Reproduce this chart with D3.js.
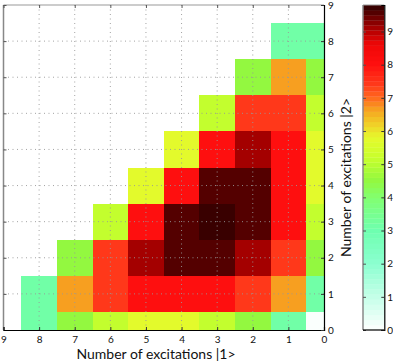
<!DOCTYPE html>
<html>
<head>
<meta charset="utf-8">
<script src="https://cdn.jsdelivr.net/npm/d3@7"></script>
<style>
  body { margin: 0; background: #fff; }
  text { font-family: Lato, "Open Sans", sans-serif; fill: #111; }
</style>
</head>
<body>
<div id="chart"></div>
<script>
// counts of excitations on each axis
var excit1 = [0, 1, 2, 3, 4, 5, 6, 7, 8],
    excit2 = [0, 1, 2, 3, 4, 5, 6, 7, 8],
    xTicks = [9, 8, 7, 6, 5, 4, 3, 2, 1, 0],
    yTicks = [0, 1, 2, 3, 4, 5, 6, 7, 8, 9],
    cbTicks = [0, 1, 2, 3, 4, 5, 6, 7, 8, 9];

// one row per |2> count, index = |1> count (null = no cell)
var row0 = [0.0, 3.1, 4.5, 5.2, 5.8, 5.8, 5.2, 4.5, 3.1],
    row1 = [3.1, 6.6, 7.4, 8.0, 8.0, 8.0, 7.4, 6.6, 3.1],
    row2 = [4.5, 7.4, 9.05, 9.55, 9.55, 9.05, 7.4, 4.5, null],
    row3 = [5.2, 8.0, 9.55, 9.8, 9.55, 8.0, 5.2, null, null],
    row4 = [5.8, 8.0, 9.55, 9.55, 8.0, 5.8, null, null, null],
    row5 = [5.8, 8.0, 9.05, 8.0, 5.8, null, null, null, null],
    row6 = [5.2, 7.4, 7.4, 5.2, null, null, null, null, null],
    row7 = [4.5, 6.6, 4.5, null, null, null, null, null, null],
    row8 = [3.1, 3.1, null, null, null, null, null, null, null];
var rows = [row0, row1, row2, row3, row4, row5, row6, row7, row8];

var zMax = 9.8;

var W = 393, H = 363,
    plot = { left: 3.5, right: 324, top: 5, bottom: 330 },
    cb = { left: 363, right: 384.3, top: 5, bottom: 330 };

var svg = d3.select("#chart").append("svg")
    .attr("width", W)
    .attr("height", H);

var x = d3.scaleLinear().domain([9, 0]).range([plot.left, plot.right]);
var y = d3.scaleLinear().domain([0, 9]).range([plot.bottom, plot.top]);

// colormap: white -> aquamarine -> green -> yellow -> orange -> red -> black-red
var cmap = d3.scaleLinear()
    .domain([0, 1, 2, 3, 4, 4.5, 5.2, 5.8, 6.2, 6.6, 7.0, 7.4, 8.0, 8.6, 9.0, 9.5, 9.8])
    .range(["#ffffff", "#c4ffe8", "#8cffd0", "#6effb0", "#82ff70", "#92f840", "#c8ff2c",
            "#e6fa2c", "#f0d028", "#f5a820", "#ff6a1e", "#ff3a1a", "#ff1010", "#f00808",
            "#b80000", "#600000", "#2c0000"])
    .clamp(true);
var nLevels = 64;
function color(v) {
    var k = Math.min(nLevels - 1, Math.floor(v / zMax * nLevels));
    return cmap((k + 0.5) / nLevels * zMax);
}

// cells
var cells = [];
rows.forEach(function(r, j) {
    r.forEach(function(v, i) {
        if (v !== null) cells.push({ e1: excit1[i], e2: excit2[j], v: v });
    });
});

svg.append("clipPath").attr("id", "clip")
    .append("rect")
    .attr("x", plot.left).attr("y", plot.top)
    .attr("width", plot.right - plot.left).attr("height", plot.bottom - plot.top);

var g = svg.append("g").attr("clip-path", "url(#clip)");

g.selectAll(".cell")
    .data(cells)
    .enter().append("rect")
    .attr("class", "cell")
    .attr("x", function(d) { return x(d.e1 + 0.5); })
    .attr("y", function(d) { return y(d.e2 + 0.5); })
    .attr("width", function(d) { return x(d.e1 - 0.5) - x(d.e1 + 0.5); })
    .attr("height", function(d) { return y(d.e2 - 0.5) - y(d.e2 + 0.5); })
    .attr("shape-rendering", "crispEdges")
    .style("fill", function(d) { return color(d.v); });

// dotted grid
g.selectAll(".vgrid")
    .data(xTicks.slice(1, -1))
    .enter().append("line")
    .attr("x1", function(d) { return x(d); }).attr("x2", function(d) { return x(d); })
    .attr("y1", plot.top).attr("y2", plot.bottom)
    .attr("stroke", "#999").attr("stroke-width", 0.9)
    .attr("stroke-dasharray", "1,3.5");

g.selectAll(".hgrid")
    .data(yTicks.slice(1, -1))
    .enter().append("line")
    .attr("y1", function(d) { return y(d); }).attr("y2", function(d) { return y(d); })
    .attr("x1", plot.left).attr("x2", plot.right)
    .attr("stroke", "#999").attr("stroke-width", 0.9)
    .attr("stroke-dasharray", "1,3.5");

// box: top/left gray, bottom/right black
svg.append("line").attr("x1", plot.left).attr("x2", plot.right)
    .attr("y1", plot.top).attr("y2", plot.top)
    .attr("stroke", "#999").attr("stroke-width", 1);
svg.append("line").attr("x1", plot.left).attr("x2", plot.left)
    .attr("y1", plot.top).attr("y2", plot.bottom)
    .attr("stroke", "#888").attr("stroke-width", 1.5);

var ticksTop = svg.append("g").attr("transform", "translate(0," + plot.top + ")")
    .call(d3.axisBottom(x).tickValues(xTicks).tickSize(3).tickFormat(""));
var ticksLeft = svg.append("g").attr("transform", "translate(" + plot.left + ",0)")
    .call(d3.axisRight(y).tickValues(yTicks).tickSize(3).tickFormat(""));
[ticksTop, ticksLeft].forEach(function(a) {
    a.select(".domain").remove();
    a.selectAll("line").attr("stroke", "#555");
});

var xAxis = svg.append("g").attr("transform", "translate(0," + plot.bottom + ")")
    .call(d3.axisTop(x).tickValues(xTicks).tickSize(3).tickFormat(d3.format("d")));
xAxis.selectAll("text")
    .attr("y", 13).attr("dy", 0)
    .style("font-size", "10px");

var yAxis = svg.append("g").attr("transform", "translate(" + plot.right + ",0)")
    .call(d3.axisLeft(y).tickValues(yTicks).tickSize(3).tickFormat(d3.format("d")));
yAxis.selectAll("text")
    .attr("x", 4).attr("text-anchor", "start")
    .style("font-size", "10px");

[xAxis, yAxis].forEach(function(a) {
    a.select(".domain").attr("stroke", "#000").attr("stroke-width", 1.2);
    a.selectAll("line").attr("stroke", "#333");
});

svg.append("text")
    .attr("x", 156).attr("y", 359)
    .attr("text-anchor", "middle")
    .style("font-size", "14px")
    .text("Number of excitations |1>");

svg.append("text")
    .attr("transform", "translate(350.5,177.5) rotate(-90)")
    .attr("text-anchor", "middle")
    .style("font-size", "14px")
    .text("Number of excitations |2>");

// colorbar
var cy = d3.scaleLinear().domain([0, zMax]).range([cb.bottom, cb.top]);
var bands = d3.range(nLevels);
svg.selectAll(".band")
    .data(bands)
    .enter().append("rect")
    .attr("class", "band")
    .attr("x", cb.left)
    .attr("width", cb.right - cb.left)
    .attr("y", function(k) { return cy((k + 1) / nLevels * zMax); })
    .attr("height", function(k) { return cy(k / nLevels * zMax) - cy((k + 1) / nLevels * zMax) + 0.3; })
    .style("fill", function(k) { return cmap((k + 0.5) / nLevels * zMax); });

svg.append("line").attr("x1", cb.left).attr("x2", cb.right)
    .attr("y1", cb.top).attr("y2", cb.top)
    .attr("stroke", "#999").attr("stroke-width", 1);
svg.append("line").attr("x1", cb.left).attr("x2", cb.left)
    .attr("y1", cb.top).attr("y2", cb.bottom)
    .attr("stroke", "#888").attr("stroke-width", 1.5);

var cbLeft = svg.append("g").attr("transform", "translate(" + cb.left + ",0)")
    .call(d3.axisRight(cy).tickValues(cbTicks).tickSize(3).tickFormat(""));
cbLeft.select(".domain").remove();
cbLeft.selectAll("line").attr("stroke", "#555");

var cbAxis = svg.append("g").attr("transform", "translate(" + cb.right + ",0)")
    .call(d3.axisLeft(cy).tickValues(cbTicks).tickSize(3).tickFormat(d3.format("d")));
cbAxis.select(".domain").attr("stroke", "#000").attr("stroke-width", 1.2);
cbAxis.selectAll("line").attr("stroke", "#333");
cbAxis.selectAll("text")
    .attr("x", 3).attr("text-anchor", "start")
    .style("font-size", "10px");

svg.append("line").attr("x1", cb.left).attr("x2", cb.right)
    .attr("y1", cb.bottom).attr("y2", cb.bottom)
    .attr("stroke", "#000").attr("stroke-width", 1.2);
</script>
</body>
</html>
